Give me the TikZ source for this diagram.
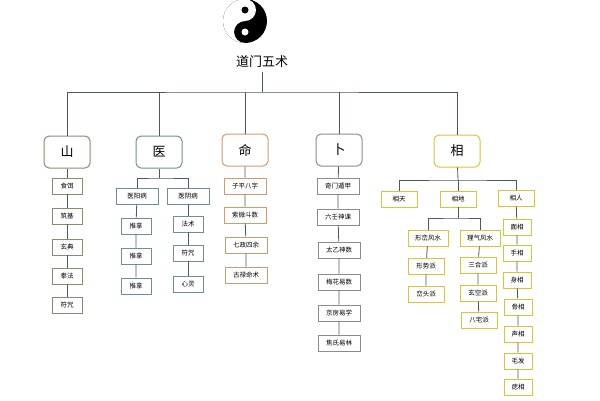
\documentclass[tikz,border=0pt]{standalone}
\usepackage{fontspec}
\setmainfont{Noto Sans CJK SC}
\usetikzlibrary{positioning}
\definecolor{shanc}{HTML}{7E9270}
\definecolor{yic}{HTML}{6F8E9C}
\definecolor{mingc}{HTML}{D39A6C}
\definecolor{buc}{HTML}{8C8C8C}
\definecolor{xiangc}{HTML}{DCC437}
\definecolor{linec}{HTML}{4A5A64}
\tikzset{main/.style={draw,rounded corners=5pt,line width=1pt,minimum width=46pt,minimum height=32pt,font=\fontsize{13}{13}\selectfont}}
\tikzset{leaf/.style={draw,line width=0.9pt,inner sep=2pt,minimum height=16pt,font=\fontsize{6.5}{7}\selectfont}}
\tikzset{wire/.style={linec,line width=0.8pt}}
\begin{document}
\begin{tikzpicture}[x=1pt,y=-1pt]
\useasboundingbox[fill=white] (0,0) rectangle (600,400);
% yin-yang
\begin{scope}[shift={(245,21)},y=1pt]
\fill[black] (0,0) circle (22);
\fill[white] (0,22) arc (90:270:22) arc (270:90:11) arc (270:450:11);
\fill[white] (0,-11) circle (3.5);
\fill[black] (0,11) circle (3.5);
\end{scope}
\node[font=\fontsize{13}{13}\selectfont] (title) at (262,62) {道门五术};
% main row
\node[main,draw=shanc] (shan) at (67,152) {山};
\node[main,draw=yic] (yi) at (159,152) {医};
\node[main,draw=mingc] (ming) at (245,150) {命};
\node[main,draw=buc] (bu) at (339,150) {卜};
\node[main,draw=xiangc] (xiang) at (457,151) {相};
\coordinate (top) at (262,92);
\draw[wire] (title) -- (top);
\draw[wire] (shan.north) |- (top) -| (xiang.north);
\foreach \m in {yi,ming,bu} \draw[wire] (\m.north) -- (\m.north |- top);
% shan
\node[leaf,draw=shanc,minimum width=30pt] (s1) at (67,186) {食饵};
\node[leaf,draw=shanc,minimum width=30pt] (s2) at (67,216) {筑基};
\node[leaf,draw=shanc,minimum width=30pt] (s3) at (67,247) {玄典};
\node[leaf,draw=shanc,minimum width=30pt] (s4) at (67,276) {拳法};
\node[leaf,draw=shanc,minimum width=30pt] (s5) at (67,305) {符咒};
\draw[wire] (shan) -- (s1) -- (s2) -- (s3) -- (s4) -- (s5);
% yi
\node[leaf,draw=yic,minimum width=42pt] (yang) at (137,196) {医阳病};
\node[leaf,draw=yic,minimum width=42pt] (yin) at (188,196) {医阴病};
\node[leaf,draw=yic,minimum width=30pt] (y1) at (136,226) {推拿};
\node[leaf,draw=yic,minimum width=30pt] (y2) at (136,256) {推拿};
\node[leaf,draw=yic,minimum width=30pt] (y3) at (136,286) {推拿};
\node[leaf,draw=yic,minimum width=30pt] (y4) at (188,224) {法术};
\node[leaf,draw=yic,minimum width=30pt] (y5) at (188,253) {符咒};
\node[leaf,draw=yic,minimum width=30pt] (y6) at (188,284) {心灵};
\coordinate (yibar) at (159,178);
\draw[wire] (yi) -- (yibar);
\draw[wire] (yang.north) |- (yibar) -| (yin.north);
\draw[wire] (yang) -- (y1) -- (y2) -- (y3);
\draw[wire] (yin) -- (y4) -- (y5) -- (y6);
% ming
\node[leaf,draw=mingc,minimum width=42pt] (m1) at (245,186) {子平八字};
\node[leaf,draw=mingc,minimum width=42pt] (m2) at (245,215) {紫微斗数};
\node[leaf,draw=mingc,minimum width=42pt] (m3) at (246,245) {七政四余};
\node[leaf,draw=mingc,minimum width=42pt] (m4) at (246,275) {古禄命术};
\draw[wire] (ming) -- (m1) -- (m2) -- (m3) -- (m4);
% bu
\node[leaf,draw=buc,minimum width=42pt] (b1) at (338,186) {奇门遁甲};
\node[leaf,draw=buc,minimum width=42pt] (b2) at (338,217) {六壬神课};
\node[leaf,draw=buc,minimum width=42pt] (b3) at (339,250) {太乙神数};
\node[leaf,draw=buc,minimum width=42pt] (b4) at (339,282) {梅花易数};
\node[leaf,draw=buc,minimum width=42pt] (b5) at (339,313) {京房易学};
\node[leaf,draw=buc,minimum width=42pt] (b6) at (339,343) {焦氏易林};
\draw[wire] (bu) -- (b1) -- (b2) -- (b3) -- (b4) -- (b5) -- (b6);
% xiang
\node[leaf,draw=xiangc,minimum width=36pt] (tian) at (399,199) {相天};
\node[leaf,draw=xiangc,minimum width=36pt] (di) at (458,199) {相地};
\node[leaf,draw=xiangc,minimum width=36pt] (ren) at (516,198) {相人};
\coordinate (xbar) at (458,180);
\draw[wire] (xiang) -- (xbar);
\draw[wire] (tian.north) |- (xbar) -| (ren.north);
\draw[wire] (xbar) -- (di);
\node[leaf,draw=xiangc,minimum width=40pt] (luan) at (428,238) {形峦风水};
\node[leaf,draw=xiangc,minimum width=40pt] (qi) at (480,238) {理气风水};
\node[leaf,draw=xiangc,minimum width=36pt] (d1) at (426,266) {形势派};
\node[leaf,draw=xiangc,minimum width=36pt] (d2) at (426,294) {峦头派};
\node[leaf,draw=xiangc,minimum width=36pt] (d3) at (478,265) {三合派};
\node[leaf,draw=xiangc,minimum width=36pt] (d4) at (478,293) {玄空派};
\node[leaf,draw=xiangc,minimum width=36pt] (d5) at (479,320) {八宅派};
\coordinate (dbar) at (458,218);
\draw[wire] (di) -- (dbar);
\draw[wire] (luan.north) |- (dbar) -| (qi.north);
\draw[wire] (luan) -- (d1) -- (d2);
\draw[wire] (qi) -- (d3) -- (d4) -- (d5);
\node[leaf,draw=xiangc,minimum width=28pt] (r1) at (517,227) {面相};
\node[leaf,draw=xiangc,minimum width=28pt] (r2) at (517,253) {手相};
\node[leaf,draw=xiangc,minimum width=28pt] (r3) at (517,280) {身相};
\node[leaf,draw=xiangc,minimum width=28pt] (r4) at (518,307) {骨相};
\node[leaf,draw=xiangc,minimum width=28pt] (r5) at (518,334) {声相};
\node[leaf,draw=xiangc,minimum width=28pt] (r6) at (518,361) {毛发};
\node[leaf,draw=xiangc,minimum width=28pt] (r7) at (518,387) {痣相};
\draw[wire] (ren) -- (r1) -- (r2) -- (r3) -- (r4) -- (r5) -- (r6) -- (r7);
\end{tikzpicture}
\end{document}
